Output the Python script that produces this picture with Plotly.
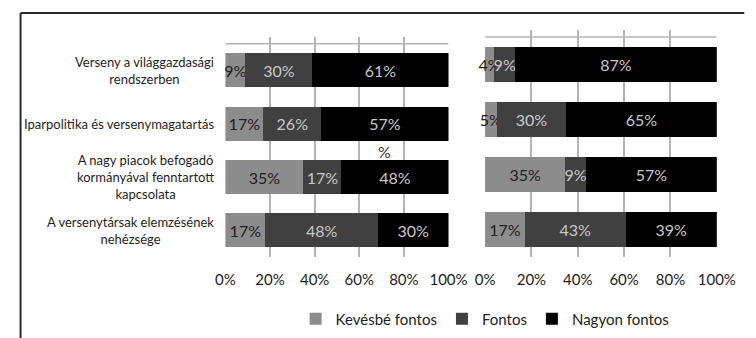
import plotly.graph_objects as go

# Survey categories (top to bottom)
categories = [
    "Verseny a világgazdasági rendszerben",
    "Iparpolitika és versenymagatartás",
    "A nagy piacok befogadó kormányával fenntartott kapcsolata",
    "A versenytársak elemzésének nehézsége",
]
category_labels = [
    "Verseny a világgazdasági<br>rendszerben",
    "Iparpolitika és versenymagatartás",
    "A nagy piacok befogadó<br>kormányával fenntartott<br>kapcsolata",
    "A versenytársak elemzésének<br>nehézsége",
]

series_names = ["Kevésbé fontos", "Fontos", "Nagyon fontos"]

# Left panel shares (%)
left_kevesbe = [9, 17, 35, 17]
left_fontos = [30, 26, 17, 48]
left_nagyon = [61, 57, 48, 30]

# Right panel shares (%)
right_kevesbe = [4, 5, 35, 17]
right_fontos = [9, 30, 9, 43]
right_nagyon = [87, 65, 57, 39]

tick_vals = [0, 20, 40, 60, 80, 100]
tick_text = ["0%", "20%", "40%", "60%", "80%", "100%"]

bar_colors = ["#8c8c8c", "#404040", "#000000"]
text_colors = ["#1e1e1e", "#c8c8c8", "#c8c8c8"]

W, H = 756, 338
FONT = "Lato"


def px_x(p):
    return p / W


def px_y(p):
    return 1 - p / H


fig = go.Figure()

panels = [
    ("x", "y", [left_kevesbe, left_fontos, left_nagyon], True),
    ("x2", "y2", [right_kevesbe, right_fontos, right_nagyon], False),
]

for xa, ya, series, show in panels:
    for name, vals, col, tcol in zip(series_names, series, bar_colors, text_colors):
        fig.add_trace(go.Bar(
            y=categories,
            x=vals,
            orientation="h",
            name=name,
            marker=dict(color=col, line=dict(width=0)),
            width=0.64,
            text=vals,
            texttemplate="%{text}%",
            textposition="inside",
            textangle=0,
            insidetextanchor="middle",
            constraintext="none",
            insidetextfont=dict(family=FONT, size=16, color=tcol),
            xaxis=xa,
            yaxis=ya,
            showlegend=show,
            cliponaxis=False,
        ))

axis_common = dict(
    range=[0, 100],
    tickvals=tick_vals,
    ticktext=tick_text,
    showgrid=True,
    gridcolor="#b4b4b4",
    gridwidth=1.5,
    zeroline=False,
    showline=False,
    ticks="",
    ticklabelstandoff=12,
    tickfont=dict(family=FONT, size=15, color="#222222"),
    fixedrange=True,
)

fig.update_layout(
    width=W,
    height=H,
    margin=dict(l=0, r=0, t=0, b=0),
    paper_bgcolor="white",
    plot_bgcolor="white",
    barmode="stack",
    barnorm="percent",
    bargap=0.36,
    font=dict(family=FONT, color="#222222"),
    xaxis=dict(domain=[px_x(224), px_x(456)], anchor="y", **axis_common),
    xaxis2=dict(domain=[px_x(494), px_x(735)], anchor="y2", **axis_common),
    yaxis=dict(
        domain=[px_y(257), px_y(37)],
        anchor="x",
        type="category",
        categoryorder="array",
        categoryarray=categories,
        range=[3.5, -0.625],
        showticklabels=False,
        showgrid=False,
        zeroline=False,
        ticks="",
    ),
    yaxis2=dict(
        domain=[px_y(257), px_y(30)],
        anchor="x2",
        type="category",
        categoryorder="array",
        categoryarray=categories,
        range=[3.5, -0.627],
        showticklabels=False,
        showgrid=False,
        zeroline=False,
        ticks="",
    ),
    legend=dict(
        orientation="h",
        traceorder="normal",
        x=px_x(297),
        y=px_y(319),
        xanchor="left",
        yanchor="middle",
        font=dict(family=FONT, size=15, color="#222222"),
        bgcolor="rgba(0,0,0,0)",
        itemclick=False,
        itemdoubleclick=False,
    ),
)

# Category names to the left of the first panel, centred line by line
for cat, lab in zip(categories, category_labels):
    fig.add_annotation(
        x=px_x(214), xref="paper",
        y=cat, yref="y",
        text=lab,
        showarrow=False,
        xanchor="right",
        yanchor="middle",
        align="center",
        font=dict(family=FONT, size=13, color="#1e1e1e"),
    )

# Overflowing percent sign above the third bar of the first panel
fig.add_annotation(
    x=71.5, xref="x", y=1.52, yref="y",
    text="%", showarrow=False,
    font=dict(family=FONT, size=16, color="#333333"),
)

# Top edge line of each plot area
for xr, yr in (("x", "y"), ("x2", "y2")):
    fig.add_shape(
        type="line", xref=xr, yref=yr,
        x0=0, x1=100, y0=-0.5, y1=-0.5,
        line=dict(color="#b4b4b4", width=1.5),
        layer="below",
    )

# Outer frame (top and left edges)
fig.add_shape(type="line", xref="paper", yref="paper",
              x0=px_x(11), x1=1.01, y0=px_y(13), y1=px_y(13),
              line=dict(color="#2a2a2a", width=2))
fig.add_shape(type="line", xref="paper", yref="paper",
              x0=px_x(11), x1=px_x(11), y0=px_y(13), y1=-0.01,
              line=dict(color="#2a2a2a", width=2))

fig.write_html("out.html")
